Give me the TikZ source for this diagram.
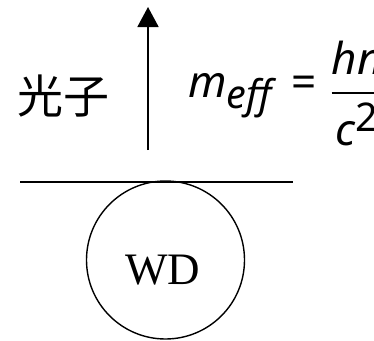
\documentclass[tikz,border=0pt]{standalone}
\usepackage{amsmath,graphicx}
\usepackage{fontspec}
\setmainfont{Liberation Serif}
\newfontfamily\cjk{Noto Sans CJK SC}
\newfontfamily\formulafont{Noto Sans}
\newcommand{\mv}[1]{\text{\formulafont\itshape #1}}
\newcommand{\lowsub}[1]{\raisebox{-2.7pt}{\scalebox{0.9}{\mv{#1}}}}
\newcommand{\highsup}[1]{\raisebox{3.2pt}{\scalebox{0.9}{\formulafont #1}}}
\usetikzlibrary{arrows.meta,positioning}

\begin{document}
\begin{tikzpicture}[
    x=1pt, y=-1pt,
    star/.style={draw=black, circle, line width=1.4pt, minimum size=158pt,
        inner sep=0pt},
    startext/.style={inner sep=0pt, font=\fontsize{45}{50}\selectfont},
    photon/.style={inner sep=0pt, font=\cjk\fontsize{46}{50}\selectfont},
    formula/.style={inner sep=0pt, anchor=base west},
    surface/.style={line width=1.4pt, draw=black},
    flow/.style={-{Triangle[length=20pt,width=21pt]}, line width=1.8pt,
        draw=black}
]
\useasboundingbox (0,0) rectangle (374,340);
\clip (0,0) rectangle (374,340);

\node[star] (wd) at (165.5,260) {};
\node[startext] (wdtext) at ([xshift=-3pt,yshift=-10pt]wd.center) {WD};

\coordinate (surfL) at (20,182);
\coordinate (surfR) at (293,182);
\draw[surface] (surfL) -- (surfR);

\coordinate (rayfoot) at (148,150);
\coordinate (raytip) at (148,7);
\draw[flow] (rayfoot) -- (raytip);

\node[photon] (guangzi) at (63,96) {光子};
\node[formula] (meff) at (188,97)
    {\scalebox{4.4}{$\mv{m}\lowsub{eff}\hspace{4.5pt}\text{\formulafont =}\hspace{2.2pt}%
     \raisebox{-1.6pt}{$\dfrac{\mv{h\bfseries n}}{\rule{0pt}{10.5pt}\mv{c}\highsup{2}}$}$}};
\end{tikzpicture}
\end{document}
